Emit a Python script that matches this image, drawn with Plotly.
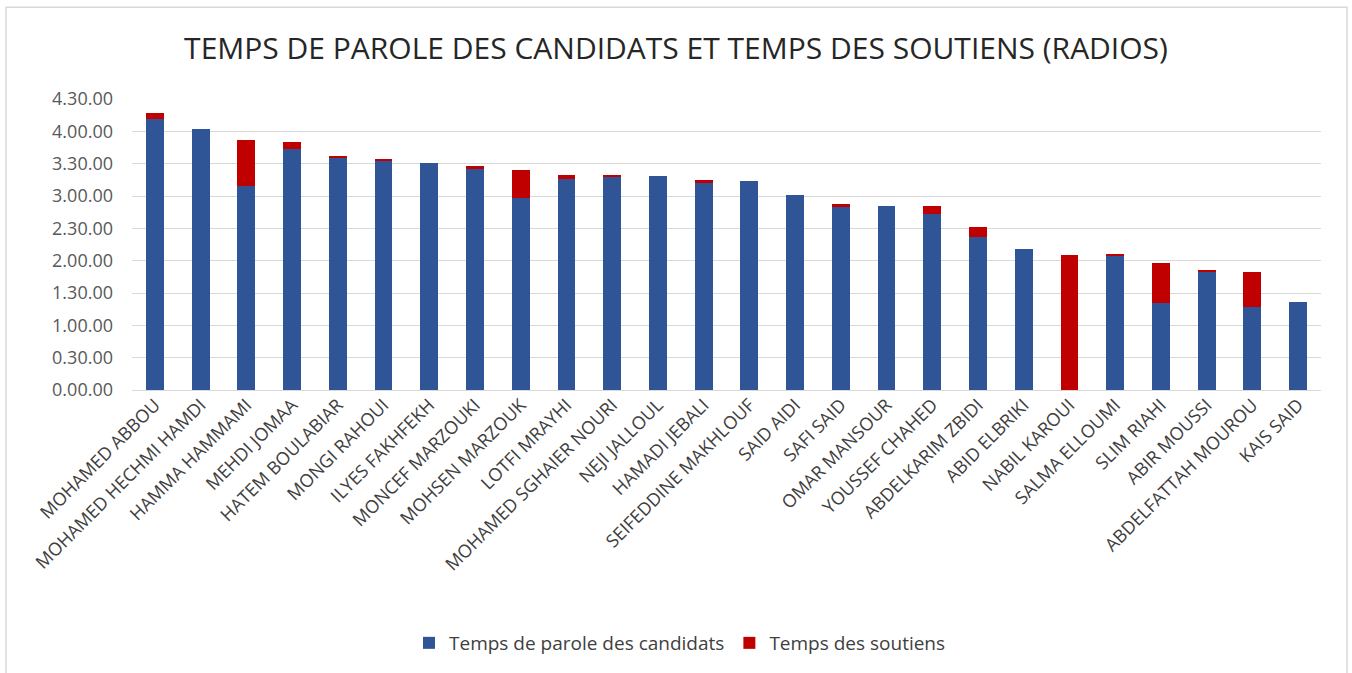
import plotly.graph_objects as go

candidats = ["MOHAMED ABBOU", "MOHAMED HECHMI HAMDI", "HAMMA HAMMAMI", "MEHDI JOMAA",
             "HATEM BOULABIAR", "MONGI RAHOUI", "ILYES FAKHFEKH", "MONCEF MARZOUKI",
             "MOHSEN MARZOUK", "LOTFI MRAYHI", "MOHAMED SGHAIER NOURI", "NEJI JALLOUL",
             "HAMADI JEBALI", "SEIFEDDINE MAKHLOUF", "SAID AIDI", "SAFI SAID",
             "OMAR MANSOUR", "YOUSSEF CHAHED", "ABDELKARIM ZBIDI", "ABID ELBRIKI",
             "NABIL KAROUI", "SALMA ELLOUMI", "SLIM RIAHI", "ABIR MOUSSI",
             "ABDELFATTAH MOUROU", "KAIS SAID"]

# minutes
temps_parole = [251.5, 242.5, 189.5, 223.8, 216.0, 212.7, 210.5, 205.9,
                178.5, 196.0, 198.2, 198.8, 192.6, 193.6, 180.6, 169.8,
                170.8, 163.0, 142.1, 130.7, 0.0, 124.5, 80.4, 110.0,
                77.0, 81.6]
temps_soutiens = [5.5, 0.0, 42.0, 6.0, 1.5, 1.5, 0.0, 1.5,
                  25.8, 3.4, 1.5, 0.0, 1.8, 0.0, 0.0, 2.5,
                  0.0, 8.0, 9.2, 0.0, 125.4, 1.9, 37.6, 1.6,
                  32.4, 0.0]

tick_vals = [0, 30, 60, 90, 120, 150, 180, 210, 240, 270]
tick_text = ["0.00.00", "0.30.00", "1.00.00", "1.30.00", "2.00.00", "2.30.00",
             "3.00.00", "3.30.00", "4.00.00", "4.30.00"]

FONT = "Open Sans, Liberation Sans, sans-serif"

fig = go.Figure()
fig.add_trace(go.Bar(x=candidats, y=temps_parole, name="Temps de parole des candidats",
                     marker=dict(color="#2F5597", line=dict(width=0))))
fig.add_trace(go.Bar(x=candidats, y=temps_soutiens, name="Temps des soutiens",
                     marker=dict(color="#C00000", line=dict(width=0))))

L, R, T, B = 132, 31, 99, 282
W, H = 1352, 673
pw, ph = W - L - R, H - T - B

def px_x(x):
    return (x - L) / pw

def px_y(y):
    return (H - B - y) / ph

fig.update_layout(
    barmode="stack",
    bargap=0.61,
    width=W, height=H,
    margin=dict(l=L, r=R, t=T, b=B),
    paper_bgcolor="white", plot_bgcolor="white",
    font=dict(family=FONT, color="#404040"),
    title=dict(text="TEMPS DE PAROLE DES CANDIDATS ET TEMPS DES SOUTIENS (RADIOS)",
               x=0.5, xanchor="center", y=1 - 48 / H, yanchor="middle",
               font=dict(family=FONT, size=30, color="#262626")),
    legend=dict(orientation="h", x=px_x(680), xanchor="center", y=px_y(643), yanchor="middle",
                font=dict(family=FONT, size=19, color="#404040"), traceorder="normal"),
    xaxis=dict(tickangle=-45, tickfont=dict(family=FONT, size=18, color="#404040"),
               showgrid=False, showline=False, zeroline=False, ticks=""),
    yaxis=dict(range=[0, 270], tickvals=tick_vals, ticktext=tick_text,
               tickfont=dict(family=FONT, size=18, color="#595959"),
               showgrid=True, gridcolor="#D9D9D9", gridwidth=1, zeroline=True,
               zerolinecolor="#D9D9D9", zerolinewidth=1, showline=False,
               ticklabelstandoff=18),
    shapes=[dict(type="rect", xref="paper", yref="paper",
                 x0=px_x(6), x1=px_x(1347), y0=px_y(700), y1=px_y(7),
                 line=dict(color="#D9D9D9", width=1.5), layer="below")],
)

fig.write_html("out.html", config={"displayModeBar": False},
               post_script="document.body.style.margin='0';")
